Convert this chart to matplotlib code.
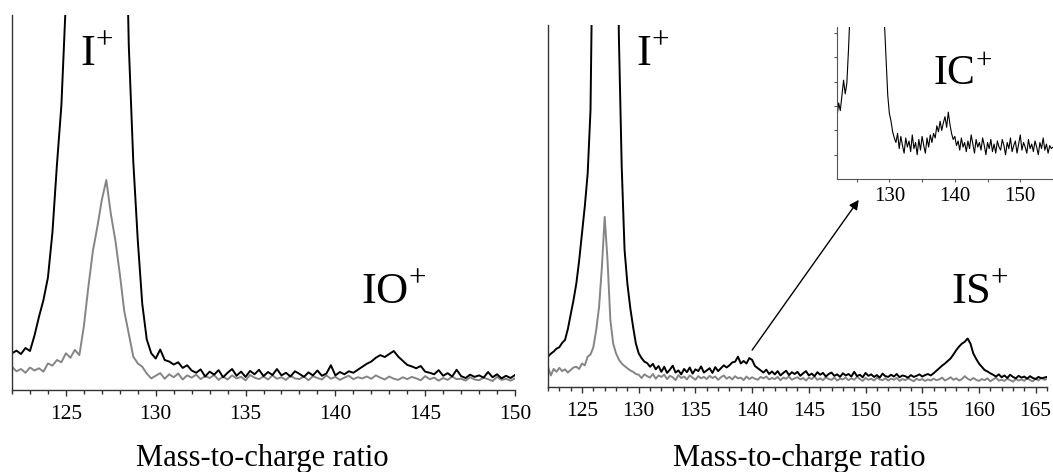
import numpy as np
import matplotlib
matplotlib.use('Agg')
import matplotlib.pyplot as plt

plt.rcParams['font.family'] = ['Liberation Serif', 'DejaVu Serif']
plt.rcParams['mathtext.fontset'] = 'custom'
plt.rcParams['mathtext.rm'] = 'Liberation Serif'

# ── Data (intensity in arbitrary units) ────────────────────────────────────
# mass-to-charge grid, 0.25 step
mz_left = np.arange(122.0, 150.001, 0.25)
mz_right = np.arange(122.0, 166.001, 0.25)
mz_inset = np.arange(122.0, 155.001, 0.25)

left_black = [
    9.8, 10.5, 9.6, 11.2, 10.4, 14.5, 19.5, 24,
    30, 42, 60, 76, 104, 135, 170, 215,
    260, 300, 330, 350, 360, 355, 335, 300,
    230, 150, 92, 61, 40, 23, 13.5, 9.8,
    8.4, 10.8, 8.0, 7.6, 6.8, 7.4, 5.9, 6.6,
    5.2, 4.6, 5.5, 3.6, 4.9, 4.1, 5.3, 3.4,
    4.6, 5.6, 3.8, 4.9, 3.5, 5.1, 4.2, 5.4,
    3.7, 4.8, 4.0, 5.6, 3.9, 4.6, 3.6, 5.0,
    4.3, 3.5, 4.7, 3.9, 5.2, 3.8, 4.4, 6.6,
    3.9, 4.8, 4.2, 5.0, 4.6, 5.4, 6.2, 7.0,
    7.6, 8.6, 9.3, 8.8, 9.6, 10.4, 8.9, 7.8,
    6.7, 6.3, 5.8, 6.4, 4.9, 4.6, 4.2, 5.3,
    3.8, 4.5, 3.6, 5.4, 3.7, 3.2, 4.1, 3.5,
    3.9, 3.3, 4.8, 3.4, 4.2, 3.1, 3.8, 3.2,
    4.0,
]
left_gray = [
    6.2, 5.0, 5.6, 4.6, 6.0, 5.2, 5.8, 4.9,
    7.1, 6.5, 8.0, 7.4, 9.8, 8.6, 10.7, 9.3,
    17, 27.5, 37, 43.5, 50.7, 56, 47, 40,
    31, 21, 15, 8.9, 7.1, 6.2, 4.4, 3.1,
    3.8, 4.5, 3.0, 4.2, 3.4, 4.4, 2.8, 3.9,
    3.3, 4.1, 2.9, 3.7, 3.2, 4.0, 2.7, 3.6,
    2.8, 3.9, 3.1, 3.5, 2.6, 4.0, 3.3, 2.9,
    3.6, 2.8, 3.9, 3.0, 3.4, 2.7, 3.8, 3.1,
    2.9, 3.6, 2.6, 3.7, 3.2, 2.8, 3.9, 3.0,
    3.5, 2.7, 3.3, 3.8, 2.9, 3.4, 3.1, 3.6,
    3.0, 3.9, 3.3, 2.8, 3.6, 3.0, 2.7, 3.4,
    2.9, 3.5, 3.1, 2.6, 3.7, 2.9, 3.3, 2.5,
    3.2, 2.7, 3.6, 2.9, 3.0, 2.5, 3.4, 2.8,
    2.6, 3.3, 2.9, 2.4, 3.5, 2.7, 3.0, 2.5,
    3.1,
]

right_black = [
    8.4, 9.2, 9.8, 10.6, 11.0, 12.2, 13.0, 16,
    20, 24, 28.6, 35, 42.5, 50, 59, 76.5,
    140, 220, 300, 350, 370, 360, 320, 250,
    170, 97, 61, 38, 28.6, 22, 16.7, 12,
    9.3, 8.0, 7.0, 6.6, 5.6, 6.4, 4.9, 5.8,
    4.2, 5.6, 3.9, 4.8, 5.9, 4.0, 4.6, 3.5,
    5.0, 4.1, 5.4, 3.7, 4.9, 4.4, 5.7, 4.0,
    4.6, 5.2, 3.9, 5.5, 4.4, 5.2, 6.0, 5.4,
    6.0, 6.8, 7.0, 8.4, 6.5, 7.2, 6.5, 8.0,
    7.5, 5.8, 5.2, 4.6, 4.0, 4.8, 3.6, 4.3,
    3.5, 4.4, 3.2, 3.9, 4.5, 3.3, 4.1, 3.6,
    4.2, 3.1, 3.8, 4.4, 3.2, 3.7, 3.0, 4.1,
    3.4, 3.9, 2.9, 3.6, 4.0, 3.1, 3.5, 2.8,
    3.8, 3.2, 3.6, 2.9, 4.2, 3.0, 3.4, 2.7,
    3.9, 3.1, 3.5, 2.8, 3.3, 2.6, 3.7, 3.0,
    2.8, 3.4, 2.9, 3.6, 2.7, 3.2, 3.0, 2.6,
    3.3, 2.8, 3.1, 3.5, 2.9, 3.3, 3.6, 3.2,
    3.8, 4.5, 5.2, 5.9, 6.5, 7.2, 7.9, 9.0,
    10.2, 11.2, 12.0, 12.5, 13.4, 12.0, 9.3, 7.8,
    6.5, 5.6, 4.7, 4.3, 3.8, 3.4, 2.9, 3.5,
    2.7, 3.2, 2.5, 3.4, 2.8, 2.4, 3.1, 2.6,
    2.9, 2.3, 3.0, 2.5, 2.2, 2.8, 2.4, 2.6,
    2.8,
]
right_gray = [
    5.6, 3.2, 5.0, 4.2, 5.3, 4.4, 4.9, 4.0,
    4.7, 5.4, 5.6, 5.0, 6.5, 6.0, 8.4, 9.0,
    11, 15.7, 22, 33, 47, 35, 18.5, 12,
    9.3, 7.6, 6.5, 5.8, 5.2, 4.6, 4.2, 3.6,
    3.4, 2.5, 3.5, 3.0, 2.6, 3.6, 2.3, 3.2,
    2.8, 3.4, 2.2, 3.1, 2.7, 1.9, 3.3, 2.5,
    2.9, 2.1, 3.2, 2.6, 2.0, 3.0, 2.4, 2.8,
    2.2, 3.1, 2.5, 2.9, 2.0, 2.7, 3.2, 2.3,
    2.8, 2.1, 3.0, 2.4, 2.6, 1.9, 2.9, 2.2,
    2.7, 2.3, 2.0, 2.8, 2.4, 2.9, 2.1, 2.5,
    2.2, 2.8, 1.9, 2.6, 2.3, 2.9, 2.0, 2.4,
    2.7, 2.1, 2.5, 1.8, 2.6, 2.2, 2.9, 2.0,
    2.4, 1.9, 2.7, 2.2, 2.0, 2.6, 1.8, 2.3,
    2.1, 2.6, 1.9, 2.4, 2.0, 2.8, 2.2, 1.7,
    2.5, 2.0, 2.3, 1.8, 2.6, 2.1, 1.9, 2.4,
    1.8, 2.3, 2.0, 2.5, 1.7, 2.2, 1.9, 2.4,
    2.0, 1.6, 2.3, 1.9, 2.2, 1.7, 2.1, 1.8,
    2.3, 1.9, 2.1, 2.6, 1.8, 2.2, 2.7, 2.0,
    2.4, 1.8, 2.2, 3.0, 2.3, 1.9, 2.5, 2.0,
    1.7, 2.2, 1.9, 2.4, 1.6, 2.1, 2.6, 1.8,
    2.0, 1.7, 2.3, 1.9, 1.5, 2.2, 1.8, 2.1,
    1.7, 2.5, 1.9, 1.6, 2.3, 1.8, 2.6, 2.0,
    2.2,
]

# zoomed black trace (inset)
inset_black = [
    41, 50, 45, 55, 65, 56, 63, 85,
    110, 140, 170, 200, 220, 230, 235, 230,
    220, 210, 195, 180, 165, 150, 140, 130,
    125, 120, 115, 110, 106, 102, 78, 55,
    43, 38, 31, 27, 24, 30, 20, 28,
    22, 17, 27, 21, 25, 18, 29, 20,
    24, 16, 26, 19, 28, 22, 17, 27,
    21, 29, 24, 30, 27, 35, 31, 38,
    32, 37, 41, 34, 44, 36, 30, 26,
    28, 22, 25, 19, 27, 21, 24, 18,
    25, 20, 29, 23, 17, 26, 21, 24,
    19, 27, 22, 16, 24, 20, 26, 18,
    23, 17, 25, 21, 19, 26, 22, 16,
    24, 20, 27, 18, 22, 25, 17, 23,
    29, 19, 24, 21, 17, 26, 20, 23,
    18, 25, 21, 16, 24, 20, 27, 19,
    23, 17, 22, 20, 21,
]

BLACK = '#000000'
GRAY = '#858585'
SPINE = '#333333'


def style_axes(ax, xmin, xmax):
    ax.set_xlim(xmin, xmax)
    ax.set_ylim(0, 100)
    for side in ('top', 'right'):
        ax.spines[side].set_visible(False)
    for side in ('left', 'bottom'):
        ax.spines[side].set_color(SPINE)
        ax.spines[side].set_linewidth(1.0)
    ax.set_yticks([])
    ax.set_xticks(np.arange(125, xmax + 0.1, 5))
    ax.set_xticks(np.arange(xmin, xmax + 0.1, 1), minor=True)
    ax.tick_params(axis='x', which='major', direction='out', length=4.5,
                   width=1, color=SPINE, labelsize=15.5, pad=6)
    ax.tick_params(axis='x', which='minor', direction='out', length=3,
                   width=1, color=SPINE)


fig = plt.figure(figsize=(10.53, 4.72), dpi=100)

# ── Left panel ─────────────────────────────────────────────────────────────
ax1 = fig.add_axes([0.0114, 0.1737, 0.4777, 0.7945])
ax1.plot(mz_left, left_gray, color=GRAY, lw=1.4)
ax1.plot(mz_left, left_black, color=BLACK, lw=1.4)
style_axes(ax1, 122, 150)
ax1.text(125.78, 86.7, r'$\mathrm{I}^{+}$', fontsize=32, va='baseline')
ax1.text(141.44, 23.2, r'$\mathrm{IO}^{+}$', fontsize=32, va='baseline')
fig.text(0.2495, 0.0125, 'Mass-to-charge ratio', fontsize=22,
         ha='center', va='baseline')

# ── Right panel ────────────────────────────────────────────────────────────
ax2 = fig.add_axes([0.5204, 0.180, 0.4739, 0.767])
ax2.plot(mz_right, right_gray, color=GRAY, lw=1.4)
ax2.plot(mz_right, right_black, color=BLACK, lw=1.4)
style_axes(ax2, 122, 166)
ax2.text(129.8, 89, r'$\mathrm{I}^{+}$', fontsize=32, va='baseline')
ax2.text(157.5, 23.2, r'$\mathrm{IS}^{+}$', fontsize=32, va='baseline')
ax2.annotate('', xy=(149.4, 51.7), xytext=(140, 10.2),
             arrowprops=dict(arrowstyle='-|>', color=BLACK, lw=1.0,
                             mutation_scale=14, shrinkA=0, shrinkB=0))
fig.text(0.759, 0.0125, 'Mass-to-charge ratio', fontsize=22,
         ha='center', va='baseline')

# ── Inset ──────────────────────────────────────────────────────────────────
ax3 = fig.add_axes([0.7949, 0.6208, 0.2051, 0.322])
ax3.plot(mz_inset, inset_black, color=BLACK, lw=0.8)
ax3.set_xlim(122, 155)
ax3.set_ylim(0, 100)
for side in ('top', 'right'):
    ax3.spines[side].set_visible(False)
for side in ('left', 'bottom'):
    ax3.spines[side].set_color('#555555')
    ax3.spines[side].set_linewidth(0.8)
ax3.set_xticks([130, 140, 150])
ax3.set_xticks([125, 135, 145, 155], minor=True)
ax3.set_yticks(np.arange(16, 100, 16))
ax3.set_yticklabels([])
ax3.tick_params(axis='both', which='both', direction='out', length=2.5,
                width=0.8, color='#555555', labelsize=15, pad=3)
ax3.text(136.7, 61.8, r'$\mathrm{IC}^{+}$', fontsize=30, va='baseline')

fig.savefig('out.png', dpi=100)
